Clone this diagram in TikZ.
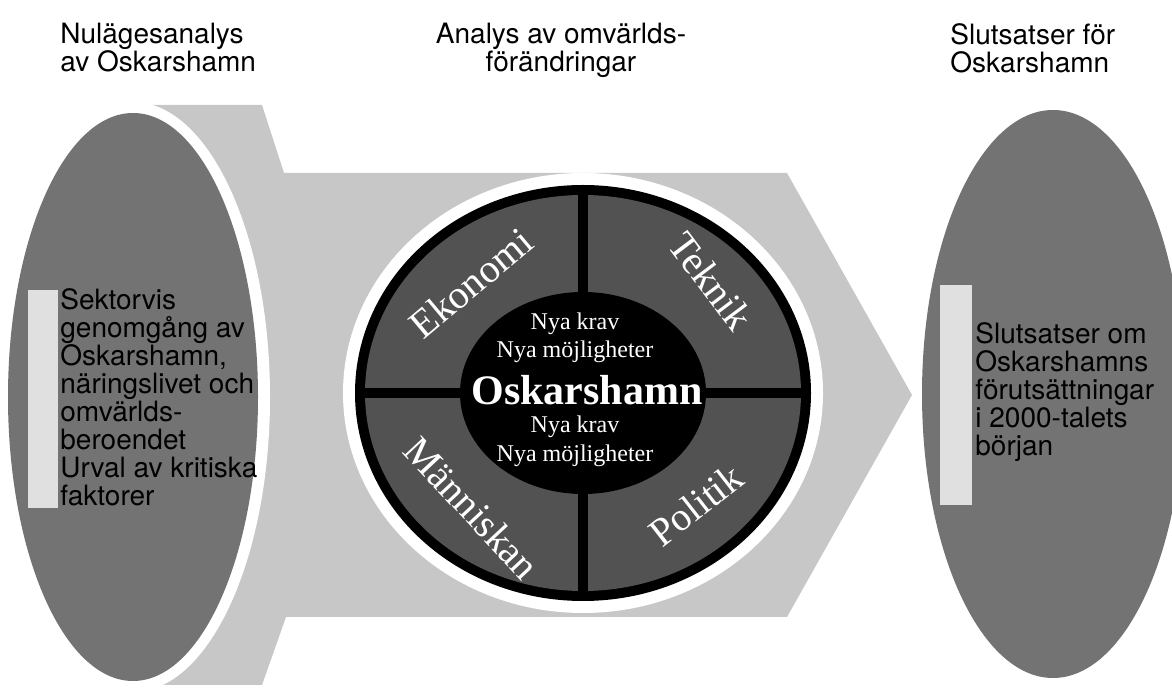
\documentclass[tikz,border=0pt]{standalone}
\usepackage{fontspec}
\setmainfont{Liberation Serif}
\setsansfont{TeX Gyre Heros}
\usetikzlibrary{calc}
\definecolor{lightdots}{gray}{0.78}
\definecolor{darkdots}{gray}{0.45}
\definecolor{ringdots}{gray}{0.32}
\definecolor{bardots}{gray}{0.88}
\tikzset{
  headtext/.style={font=\sffamily\fontsize{14}{14}\selectfont,inner sep=0},
  ovaltext/.style={font=\sffamily\fontsize{14}{14}\selectfont,inner sep=0,align=left,anchor=north west},
  sector/.style={text=white,font=\fontsize{20}{20}\selectfont,inner sep=0},
  coretext/.style={text=white,font=\fontsize{12}{12}\selectfont,inner sep=0,anchor=base}
}

\begin{document}
\begin{tikzpicture}[x=0.5pt,y=-0.5pt]
\useasboundingbox (0,0) rectangle (1172,688);
% broad arrow behind the ovals
\fill[lightdots] (140,105) -- (262,105) -- (284,173) -- (787,173) -- (912,395) -- (787,617) -- (286,617) -- (262,685) -- (140,685) -- cycle;
% left oval
\fill[white] (133,397) ellipse [x radius=137,y radius=295];
\fill[darkdots] (133,397) ellipse [x radius=125,y radius=284];
\fill[bardots] (28,290) rectangle (58,508);
% right oval
\fill[darkdots] (1053,394) ellipse [x radius=131,y radius=284];
\fill[bardots] (940,285) rectangle (972,505);
% wheel
\coordinate (hub) at (583,393);
\fill[white] (hub) ellipse [x radius=240,y radius=220];
\fill[black] (hub) ellipse [x radius=228,y radius=208];
\fill[ringdots] (hub) ellipse [x radius=218,y radius=198];
\fill[black] (578,190) rectangle (588,596);
\fill[black] (360,388) rectangle (806,398);
\fill[black] (hub) ellipse [x radius=123,y radius=101];

\node[headtext,anchor=north west,align=left] (nulage) at (60,23) {Nulägesanalys\\av Oskarshamn};
\node[headtext,anchor=north,align=center] (omvarld) at (561,23) {Analys av omvärlds-\\förändringar};
\node[headtext,anchor=north west,align=left] (slutsats) at (950,23) {Slutsatser för\\Oskarshamn};

\node[ovaltext] (sektor) at (60,288) {Sektorvis\\genomgång av\\Oskarshamn,\\näringslivet och\\omvärlds-\\beroendet\\Urval av kritiska\\faktorer};
\node[ovaltext] (forutsatt) at (975,322) {Slutsatser om\\Oskarshamns\\förutsättningar\\i 2000-talets\\början};

\node[sector,rotate=40] (ekonomi) at (471,283) {Ekonomi};
\node[sector,rotate=-53] (teknik) at (711,281) {Teknik};
\node[sector,rotate=-47] (manniskan) at (472,508) {Människan};
\node[sector,rotate=38] (politik) at (696,505) {Politik};

\node[coretext] (krav1) at (575,330) {Nya krav};
\node[coretext] (moj1) at (575,358) {Nya möjligheter};
\node[coretext,font=\bfseries\fontsize{21}{21}\selectfont] (osk) at (587,405) {Oskarshamn};
\node[coretext] (krav2) at (575,433) {Nya krav};
\node[coretext] (moj2) at (575,462) {Nya möjligheter};
\end{tikzpicture}
\end{document}
